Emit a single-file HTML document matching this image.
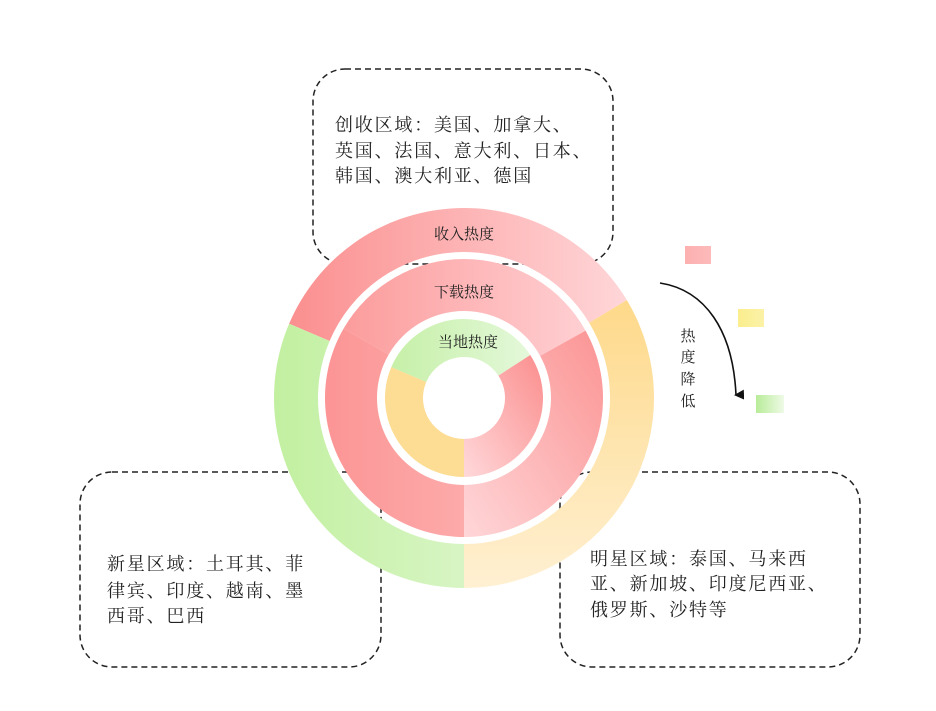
<!DOCTYPE html>
<html><head><meta charset="utf-8">
<style>
html,body{margin:0;padding:0;background:#fff;}
body{width:936px;height:706px;overflow:hidden;}
svg text{font-family:"Liberation Serif","Noto Serif CJK SC",serif;fill:#222;}
</style></head>
<body>
<svg id="s" width="936" height="706" viewBox="0 0 936 706" xmlns="http://www.w3.org/2000/svg">
<defs>
<linearGradient id="gRedH" x1="0" y1="0" x2="1" y2="0">
<stop offset="0" stop-color="#fb8f8f"/><stop offset="1" stop-color="#ffd6d8"/></linearGradient>
<linearGradient id="gMidTop" x1="0" y1="0" x2="1" y2="0">
<stop offset="0" stop-color="#fc9c9c"/><stop offset="1" stop-color="#ffcfd2"/></linearGradient>
<linearGradient id="gMidLeft" x1="0" y1="0" x2="1" y2="0">
<stop offset="0" stop-color="#fc9595"/><stop offset="1" stop-color="#fdaaaa"/></linearGradient>
<linearGradient id="gMidRight" x1="0" y1="1" x2="1" y2="0">
<stop offset="0" stop-color="#ffd6d8"/><stop offset="1" stop-color="#fb9494"/></linearGradient>
<linearGradient id="gYel" x1="0" y1="0" x2="0" y2="1">
<stop offset="0" stop-color="#fed98a"/><stop offset="1" stop-color="#fff0d2"/></linearGradient>
<linearGradient id="gGrn" x1="0" y1="0" x2="1" y2="0">
<stop offset="0" stop-color="#c2f0a0"/><stop offset="1" stop-color="#d7f5c4"/></linearGradient>
<linearGradient id="gInGrn" x1="0" y1="0" x2="1" y2="0">
<stop offset="0" stop-color="#c6f0a8"/><stop offset="1" stop-color="#e4f8da"/></linearGradient>
<linearGradient id="gInRed" x1="0" y1="1" x2="1" y2="0">
<stop offset="0" stop-color="#ffd8da"/><stop offset="1" stop-color="#fb8e8e"/></linearGradient>
<linearGradient id="lgP" x1="0" x2="1"><stop offset="0" stop-color="#fdb0b0"/><stop offset="1" stop-color="#fdbaba"/></linearGradient>
<linearGradient id="lgY" x1="0" x2="1"><stop offset="0" stop-color="#fbee8e"/><stop offset="1" stop-color="#fbf2a8"/></linearGradient>
<linearGradient id="lgG" x1="0" x2="1"><stop offset="0" stop-color="#b8ec98"/><stop offset="1" stop-color="#eefae6"/></linearGradient>
<marker id="ah" markerWidth="10" markerHeight="10" refX="5" refY="8" orient="auto" markerUnits="userSpaceOnUse">
<path d="M0,0 L10,0 L5,10 Z" fill="#111"/></marker>
</defs>
<g fill="#fff" stroke="#222" stroke-width="1.5" stroke-dasharray="6,4">
<rect x="313" y="69" width="300" height="195" rx="32"/>
<rect x="80" y="472" width="301" height="195" rx="32"/>
<rect x="560" y="472" width="300" height="195" rx="32"/>
</g>
<g id="rings"></g>
<text x="464" y="239" font-size="15" text-anchor="middle">收入热度</text>
<text x="464" y="297" font-size="15" text-anchor="middle">下载热度</text>
<text x="468" y="347" font-size="15" text-anchor="middle">当地热度</text>
<g font-size="18" letter-spacing="1.8">
<text x="335" y="131">创收区域：美国、加拿大、</text>
<text x="335" y="157">英国、法国、意大利、日本、</text>
<text x="335" y="182">韩国、澳大利亚、德国</text>
<text x="107" y="570">新星区域：土耳其、菲</text>
<text x="107" y="597">律宾、印度、越南、墨</text>
<text x="107" y="622">西哥、巴西</text>
<text x="590" y="565">明星区域：泰国、马来西</text>
<text x="590" y="590">亚、新加坡、印度尼西亚、</text>
<text x="590" y="616">俄罗斯、沙特等</text>
</g>
<path d="M660,283 C705,290 733,330 736,395" fill="none" stroke="#111" stroke-width="1.6" marker-end="url(#ah)"/>
<g font-size="15" text-anchor="middle">
<text x="688" y="341">热</text><text x="688" y="362">度</text><text x="688" y="384">降</text><text x="688" y="406">低</text>
</g>
<rect x="685" y="246" width="26" height="18" fill="url(#lgP)"/>
<rect x="738" y="309" width="26" height="18" fill="url(#lgY)"/>
<rect x="756" y="395" width="28" height="18" fill="url(#lgG)"/>
</svg>
<script>
var cx=464,cy=398;
function pt(r,a){var t=(a-90)*Math.PI/180;return [cx+r*Math.cos(t),cy+r*Math.sin(t)];}
function arc(r1,r2,a1,a2,fill){
 var big=((a2-a1+360)%360)>180?1:0;
 var p1=pt(r2,a1),p2=pt(r2,a2),p3=pt(r1,a2),p4=pt(r1,a1);
 return '<path fill="'+fill+'" d="M'+p1+' A'+r2+','+r2+' 0 '+big+' 1 '+p2+' L'+p3+' A'+r1+','+r1+' 0 '+big+' 0 '+p4+' Z"/>';
}
var h='';
h+=arc(146,190,293,419,'url(#gRedH)');
h+=arc(146,190,59,180,'url(#gYel)');
h+=arc(146,190,180,293,'url(#gGrn)');
h+=arc(87,139,300,421,'url(#gMidTop)');
h+=arc(87,139,180,300,'url(#gMidLeft)');
h+=arc(87,139,61,180,'url(#gMidRight)');
h+=arc(41,79,293,417,'url(#gInGrn)');
h+=arc(41,79,180,293,'#fddc94');
h+=arc(41,79,57,180,'url(#gInRed)');
document.getElementById('rings').innerHTML=h;
</script>
</body></html>
